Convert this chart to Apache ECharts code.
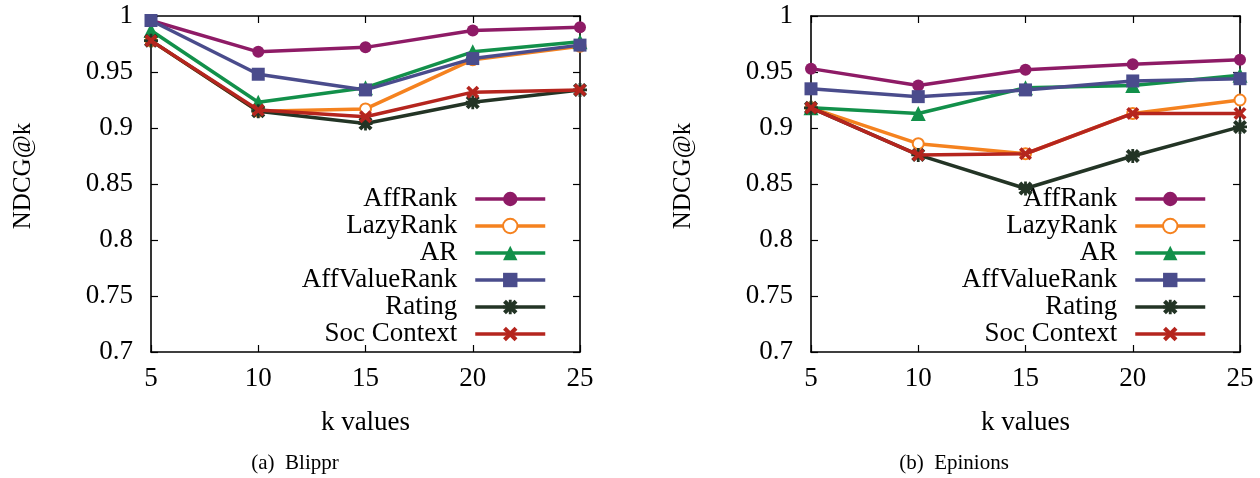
<!DOCTYPE html>
<html><head><meta charset="utf-8">
<script src="https://cdn.jsdelivr.net/npm/echarts@6/dist/echarts.min.js"></script>
<style>html,body{margin:0;padding:0;background:#fff}#c{width:1260px;height:478px}</style>
</head><body><div id="c"></div>
<script>
const kValues = [5, 10, 15, 20, 25];
const seriesNames = ['AffRank', 'LazyRank', 'AR', 'AffValueRank', 'Rating', 'Soc Context'];
const yTicks = [0.7, 0.75, 0.8, 0.85, 0.9, 0.95, 1];
// (a) Blippr
const blipprAffRank      = [0.996, 0.968, 0.972, 0.987, 0.990];
const blipprLazyRank     = [0.978, 0.915, 0.917, 0.961, 0.973];
const blipprAR           = [0.987, 0.923, 0.936, 0.968, 0.977];
const blipprAffValueRank = [0.996, 0.948, 0.934, 0.962, 0.974];
const blipprRating       = [0.978, 0.915, 0.904, 0.923, 0.934];
const blipprSocContext   = [0.978, 0.916, 0.910, 0.932, 0.934];
// (b) Epinions
const epinionsAffRank      = [0.953, 0.938, 0.952, 0.957, 0.961];
const epinionsLazyRank     = [0.918, 0.886, 0.877, 0.913, 0.925];
const epinionsAR           = [0.918, 0.913, 0.936, 0.938, 0.947];
const epinionsAffValueRank = [0.935, 0.928, 0.934, 0.942, 0.944];
const epinionsRating       = [0.918, 0.876, 0.846, 0.875, 0.901];
const epinionsSocContext   = [0.918, 0.876, 0.877, 0.913, 0.913];

const colors = ['#8e1b66', '#f5821f', '#12904a', '#4a4c8c', '#233425', '#b5251e'];
const xPath = 'path://M0,2 L2,0 L5,3 L8,0 L10,2 L7,5 L10,8 L8,10 L5,7 L2,10 L0,8 L3,5 Z';
const starPath = 'path://M0,2 L2,0 L5,3 L8,0 L10,2 L7,5 L10,8 L8,10 L5,7 L2,10 L0,8 L3,5 Z M4,0 L6,0 L6,4 L10,4 L10,6 L6,6 L6,10 L4,10 L4,6 L0,6 L0,4 L4,4 Z';
const symbols = ['circle', 'emptyCircle', 'triangle', 'rect', starPath, xPath];
const symSizes = [12, 11, 15, 13, 14, 13];

const FONT = 'Liberation Serif';
const grids = [
  {left: 151, width: 429, top: 16, height: 336},
  {left: 811, width: 429, top: 16, height: 336}
];
const datasets = [
  [blipprAffRank, blipprLazyRank, blipprAR, blipprAffValueRank, blipprRating, blipprSocContext],
  [epinionsAffRank, epinionsLazyRank, epinionsAR, epinionsAffValueRank, epinionsRating, epinionsSocContext]
];
const captions = ['(a)  Blippr', '(b)  Epinions'];
const captionX = [295, 954];
const legendRight = [713, 53];

const xAxes = [], yAxes = [], series = [], legends = [], titles = [];
grids.forEach((g, gi) => {
  const tickStyle = {show: true, inside: true, length: 7, lineStyle: {color: '#000', width: 1.2}};
  xAxes.push({
    gridIndex: gi, type: 'value', min: 5, max: 25, interval: 5,
    axisLine: {show: true, lineStyle: {color: '#000', width: 1.6}},
    axisTick: tickStyle, splitLine: {show: false},
    axisLabel: {color: '#000', fontFamily: FONT, fontSize: 27, margin: 13},
    name: 'k values', nameLocation: 'middle', nameGap: 57,
    nameTextStyle: {color: '#000', fontFamily: FONT, fontSize: 27}
  });
  xAxes.push({
    gridIndex: gi, type: 'value', min: 5, max: 25, interval: 5, position: 'top',
    axisLine: {show: true, lineStyle: {color: '#000', width: 1.6}},
    axisTick: tickStyle, splitLine: {show: false}, axisLabel: {show: false}
  });
  yAxes.push({
    gridIndex: gi, type: 'value', min: 0.7, max: 1, interval: 0.05,
    axisLine: {show: true, lineStyle: {color: '#000', width: 1.6}},
    axisTick: tickStyle, splitLine: {show: false},
    axisLabel: {color: '#000', fontFamily: FONT, fontSize: 27, margin: 18},
    name: 'NDCG@k', nameLocation: 'middle', nameGap: 115, nameRotate: 90,
    nameTextStyle: {color: '#000', fontFamily: FONT, fontSize: 25, padding: [0, 0, 0, 16]}
  });
  yAxes.push({
    gridIndex: gi, type: 'value', min: 0.7, max: 1, interval: 0.05, position: 'right',
    axisLine: {show: true, lineStyle: {color: '#000', width: 1.6}},
    axisTick: tickStyle, splitLine: {show: false}, axisLabel: {show: false}
  });
  const legendData = [];
  seriesNames.forEach((name, si) => {
    const id = name + '_' + gi;
    legendData.push(id);
    series.push({
      type: 'line', id: id, name: id,
      xAxisIndex: gi * 2, yAxisIndex: gi * 2,
      data: kValues.map((k, i) => [k, datasets[gi][si][i]]),
      symbol: symbols[si], symbolSize: symSizes[si], showSymbol: true, clip: false,
      lineStyle: {color: colors[si], width: 3.5},
      itemStyle: {color: colors[si], borderColor: colors[si], borderWidth: si === 1 ? 3 : 0},
      emphasis: {disabled: true},
      z: 10 + si
    });
  });
  legends.push({
    data: legendData, orient: 'vertical', align: 'right',
    right: legendRight[gi], top: 185.5, padding: 0,
    itemWidth: 70, itemHeight: 18, itemGap: 0,
    formatter: (n) => n.replace(/_\d$/, ''),
    lineStyle: {width: 3.5},
    textStyle: {color: '#000', fontFamily: FONT, fontSize: 27, lineHeight: 27, padding: [0, 13, 0, 0]},
    selectedMode: false, inactiveColor: '#000'
  });
  titles.push({
    text: captions[gi], left: captionX[gi], top: 453, textAlign: 'center', padding: 0,
    textStyle: {color: '#000', fontFamily: FONT, fontSize: 21, fontWeight: 'normal'}
  });
});

const chart = echarts.init(document.getElementById('c'));
chart.setOption({
  animation: false, backgroundColor: '#fff',
  title: titles, grid: grids, xAxis: xAxes, yAxis: yAxes, legend: legends, series: series
});
</script></body></html>
